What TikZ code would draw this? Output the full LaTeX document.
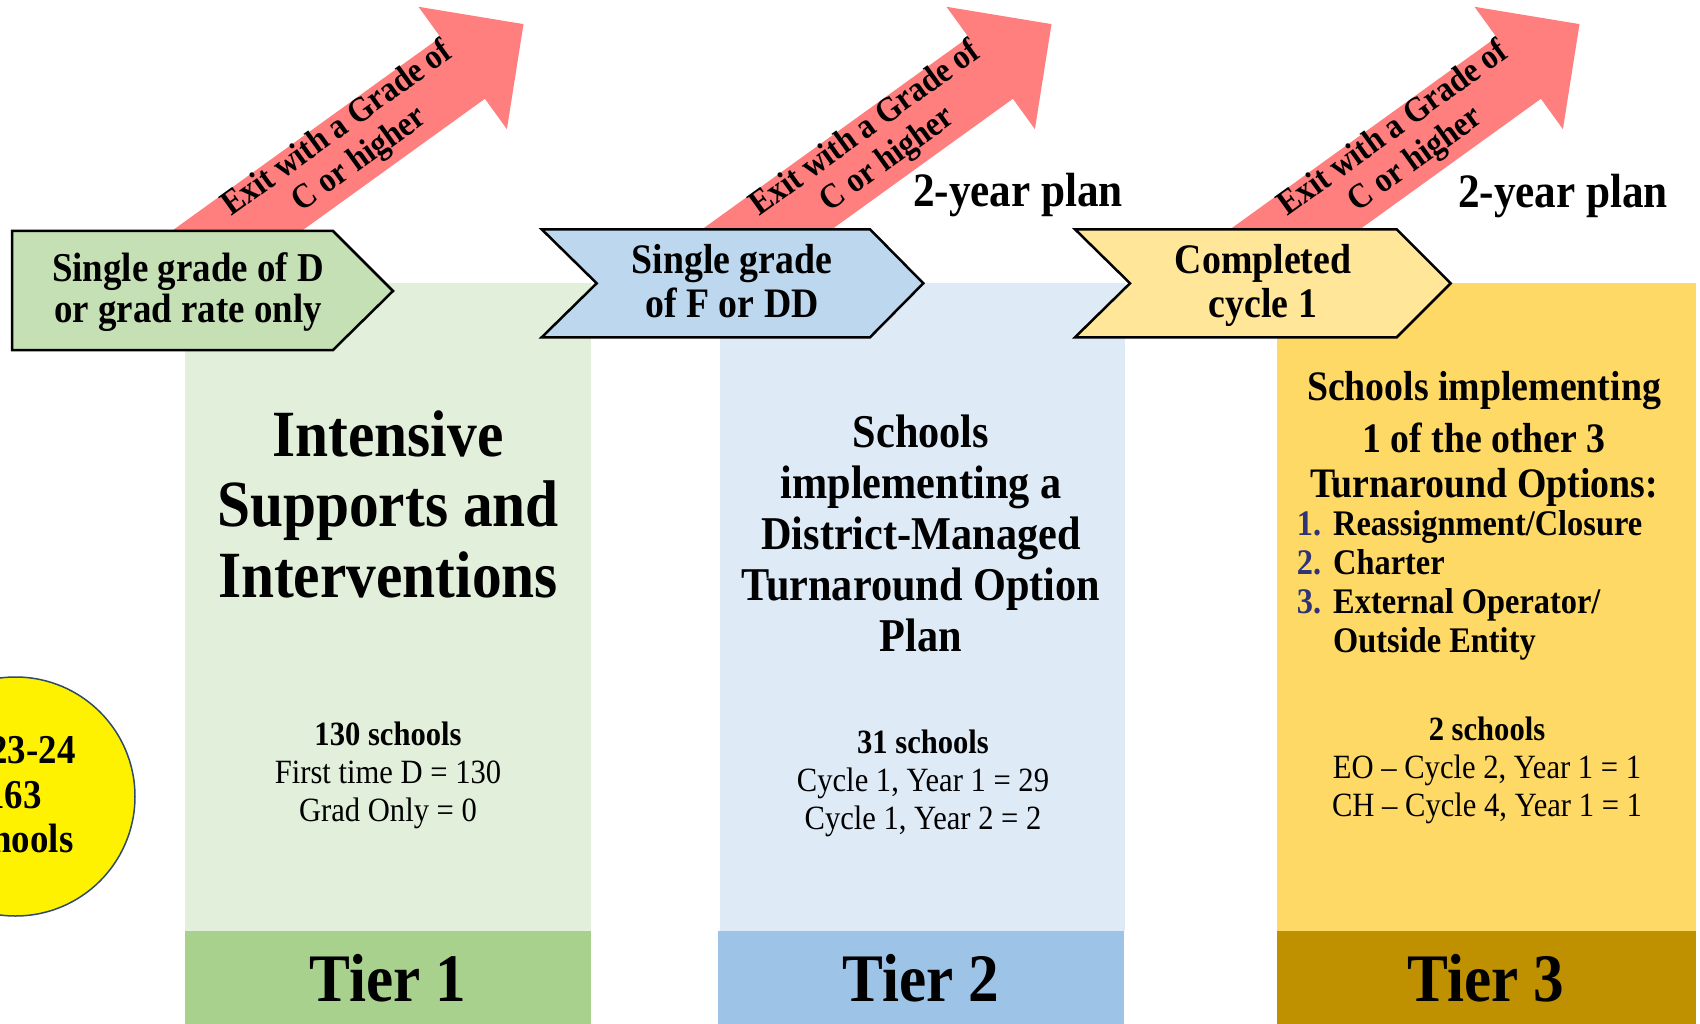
\documentclass[tikz,border=0pt]{standalone}
\usepackage{fontspec}
\setmainfont{Liberation Serif}[FakeStretch=0.9]
\definecolor{exitred}{HTML}{FF7F7F}
\definecolor{chevgreen}{HTML}{C5E0B4}
\definecolor{chevblue}{HTML}{BDD7EE}
\definecolor{chevyellow}{HTML}{FFE699}
\definecolor{litegreen}{HTML}{E2EFDA}
\definecolor{liteblue}{HTML}{DEEBF7}
\definecolor{liteyellow}{HTML}{FFD966}
\definecolor{bandgreen}{HTML}{A9D18E}
\definecolor{bandblue}{HTML}{9DC3E6}
\definecolor{bandgold}{HTML}{BF9000}
\definecolor{circedge}{HTML}{2F4A6B}
\definecolor{optblue}{HTML}{2E3477}
\newcommand{\setfs}[2]{\fontsize{#1}{#2}\selectfont}
\newcommand{\optnum}[1]{\textcolor{optblue}{#1}}
\begin{document}
\begin{tikzpicture}[x=1pt,y=-1pt,
   every node/.style={inner sep=0pt},
   chev/.style={draw=black, line width=2.5pt, line join=miter},
   chevtext/.style={align=center, font=\bfseries\setfs{42}{44}},
   exittext/.style={align=center, rotate=35.8, font=\bfseries\setfs{35}{38}},
   headtext/.style={align=center, font=\bfseries\setfs{47}{51}},
   stattext/.style={align=center, font=\setfs{34}{38}},
   tiertext/.style={font=\bfseries\setfs{68}{72}},
   plantext/.style={anchor=base, font=\bfseries\setfs{48}{50}}]
\useasboundingbox (0,0) rectangle (1700,1024);
\clip (0,0) rectangle (1700,1024);
% Tier Panels
   \fill[litegreen] (185,283) rectangle (591,931);
   \fill[bandgreen] (185,931) rectangle (591,1024);
   \fill[liteblue] (720,283) rectangle (1125,931);
   \fill[bandblue] (718,931) rectangle (1124,1024);
   \fill[liteyellow] (1277,283) rectangle (1696,931);
   \fill[bandgold] (1277,931) rectangle (1696,1024);
% Exit Arrows
   \foreach \bx/\nm in {238/exitA,766/exitB,1294/exitC}{
      \fill[exitred] (\bx-87.1,246) -- (\bx+202.5,37.2) -- (\bx+180.5,6.8) -- (\bx+285.5,24.1)
         -- (\bx+268.9,129.2) -- (\bx+246.9,98.8) -- (\bx-42.7,307.6) -- cycle;
      \node[exittext] (\nm) at (\bx+111,145) {Exit with a Grade of\\C or higher};
   }
% Entry Chevrons
   \draw[chev, fill=chevgreen] (12,231) -- (333,231) -- (393,291) -- (333,350) -- (12,350) -- cycle;
   \draw[chev, fill=chevblue] (541.7,229.3) -- (870,229.3) -- (923.3,283.3) -- (870,337.3)
      -- (541.7,337.3) -- (596.7,283.3) -- cycle;
   \draw[chev, fill=chevyellow] (1075,229.3) -- (1396.7,229.3) -- (1450.7,283.3) -- (1396.7,337.3)
      -- (1075,337.3) -- (1130,283.3) -- cycle;
   \node[chevtext, font=\bfseries\setfs{41}{41}] (entryD) at (188,292.5) {Single grade of D\\or grad rate only};
   \node[chevtext] (entryF) at (732,281) {Single grade\\of F or DD};
   \node[chevtext] (entryC) at (1263,285.5) {Completed\\cycle 1};
   %
   \node[plantext] (planB) at (1018,207) {2-year plan};
   \node[plantext] (planC) at (1563,208) {2-year plan};
% Total Count
   \draw[fill=yellow, draw=circedge, line width=1.5pt] (15.5,796.5) circle (119.5pt);
   \node[align=center, font=\bfseries\setfs{41}{44.5}] (total) at (14,794.7) {2023-24\\163\\Schools};
% Tier 1
   \node[headtext, font=\bfseries\setfs{66}{70.5}] (headA) at (388,504) {Intensive\\Supports and\\Interventions};
   \node[stattext] (statA) at (388,775) {{\bfseries 130 schools}\\First time D = 130\\Grad Only = 0};
   \node[tiertext] (tierA) at (388,978) {Tier 1};
% Tier 2
   \node[headtext] (headB) at (921,533) {Schools\\implementing a\\District-Managed\\Turnaround Option\\Plan};
   \node[stattext] (statB) at (923,783) {{\bfseries 31 schools}\\Cycle 1, Year 1 = 29\\Cycle 1, Year 2 = 2};
   \node[tiertext] (tierB) at (921,978) {Tier 2};
% Tier 3
   \node[headtext, font=\bfseries\setfs{42}{45}] (headC) at (1484,438.7) {Schools implementing\\[7pt]1 of the other 3\\Turnaround Options:};
   \node[anchor=base west, font=\bfseries\setfs{36}{39}] (optsC) at (1296.7,535)
      {\begin{tabular}[t]{@{}l@{\hspace{12pt}}l@{}}
       \optnum{1.} & Reassignment/Closure\\
       \optnum{2.} & Charter\\
       \optnum{3.} & External Operator/\\
                   & Outside Entity
       \end{tabular}};
   \node[stattext] (statC) at (1487,770) {{\bfseries 2 schools}\\EO -- Cycle 2, Year 1 = 1\\CH -- Cycle 4, Year 1 = 1};
   \node[tiertext] (tierC) at (1486,978) {Tier 3};
\end{tikzpicture}
\end{document}
